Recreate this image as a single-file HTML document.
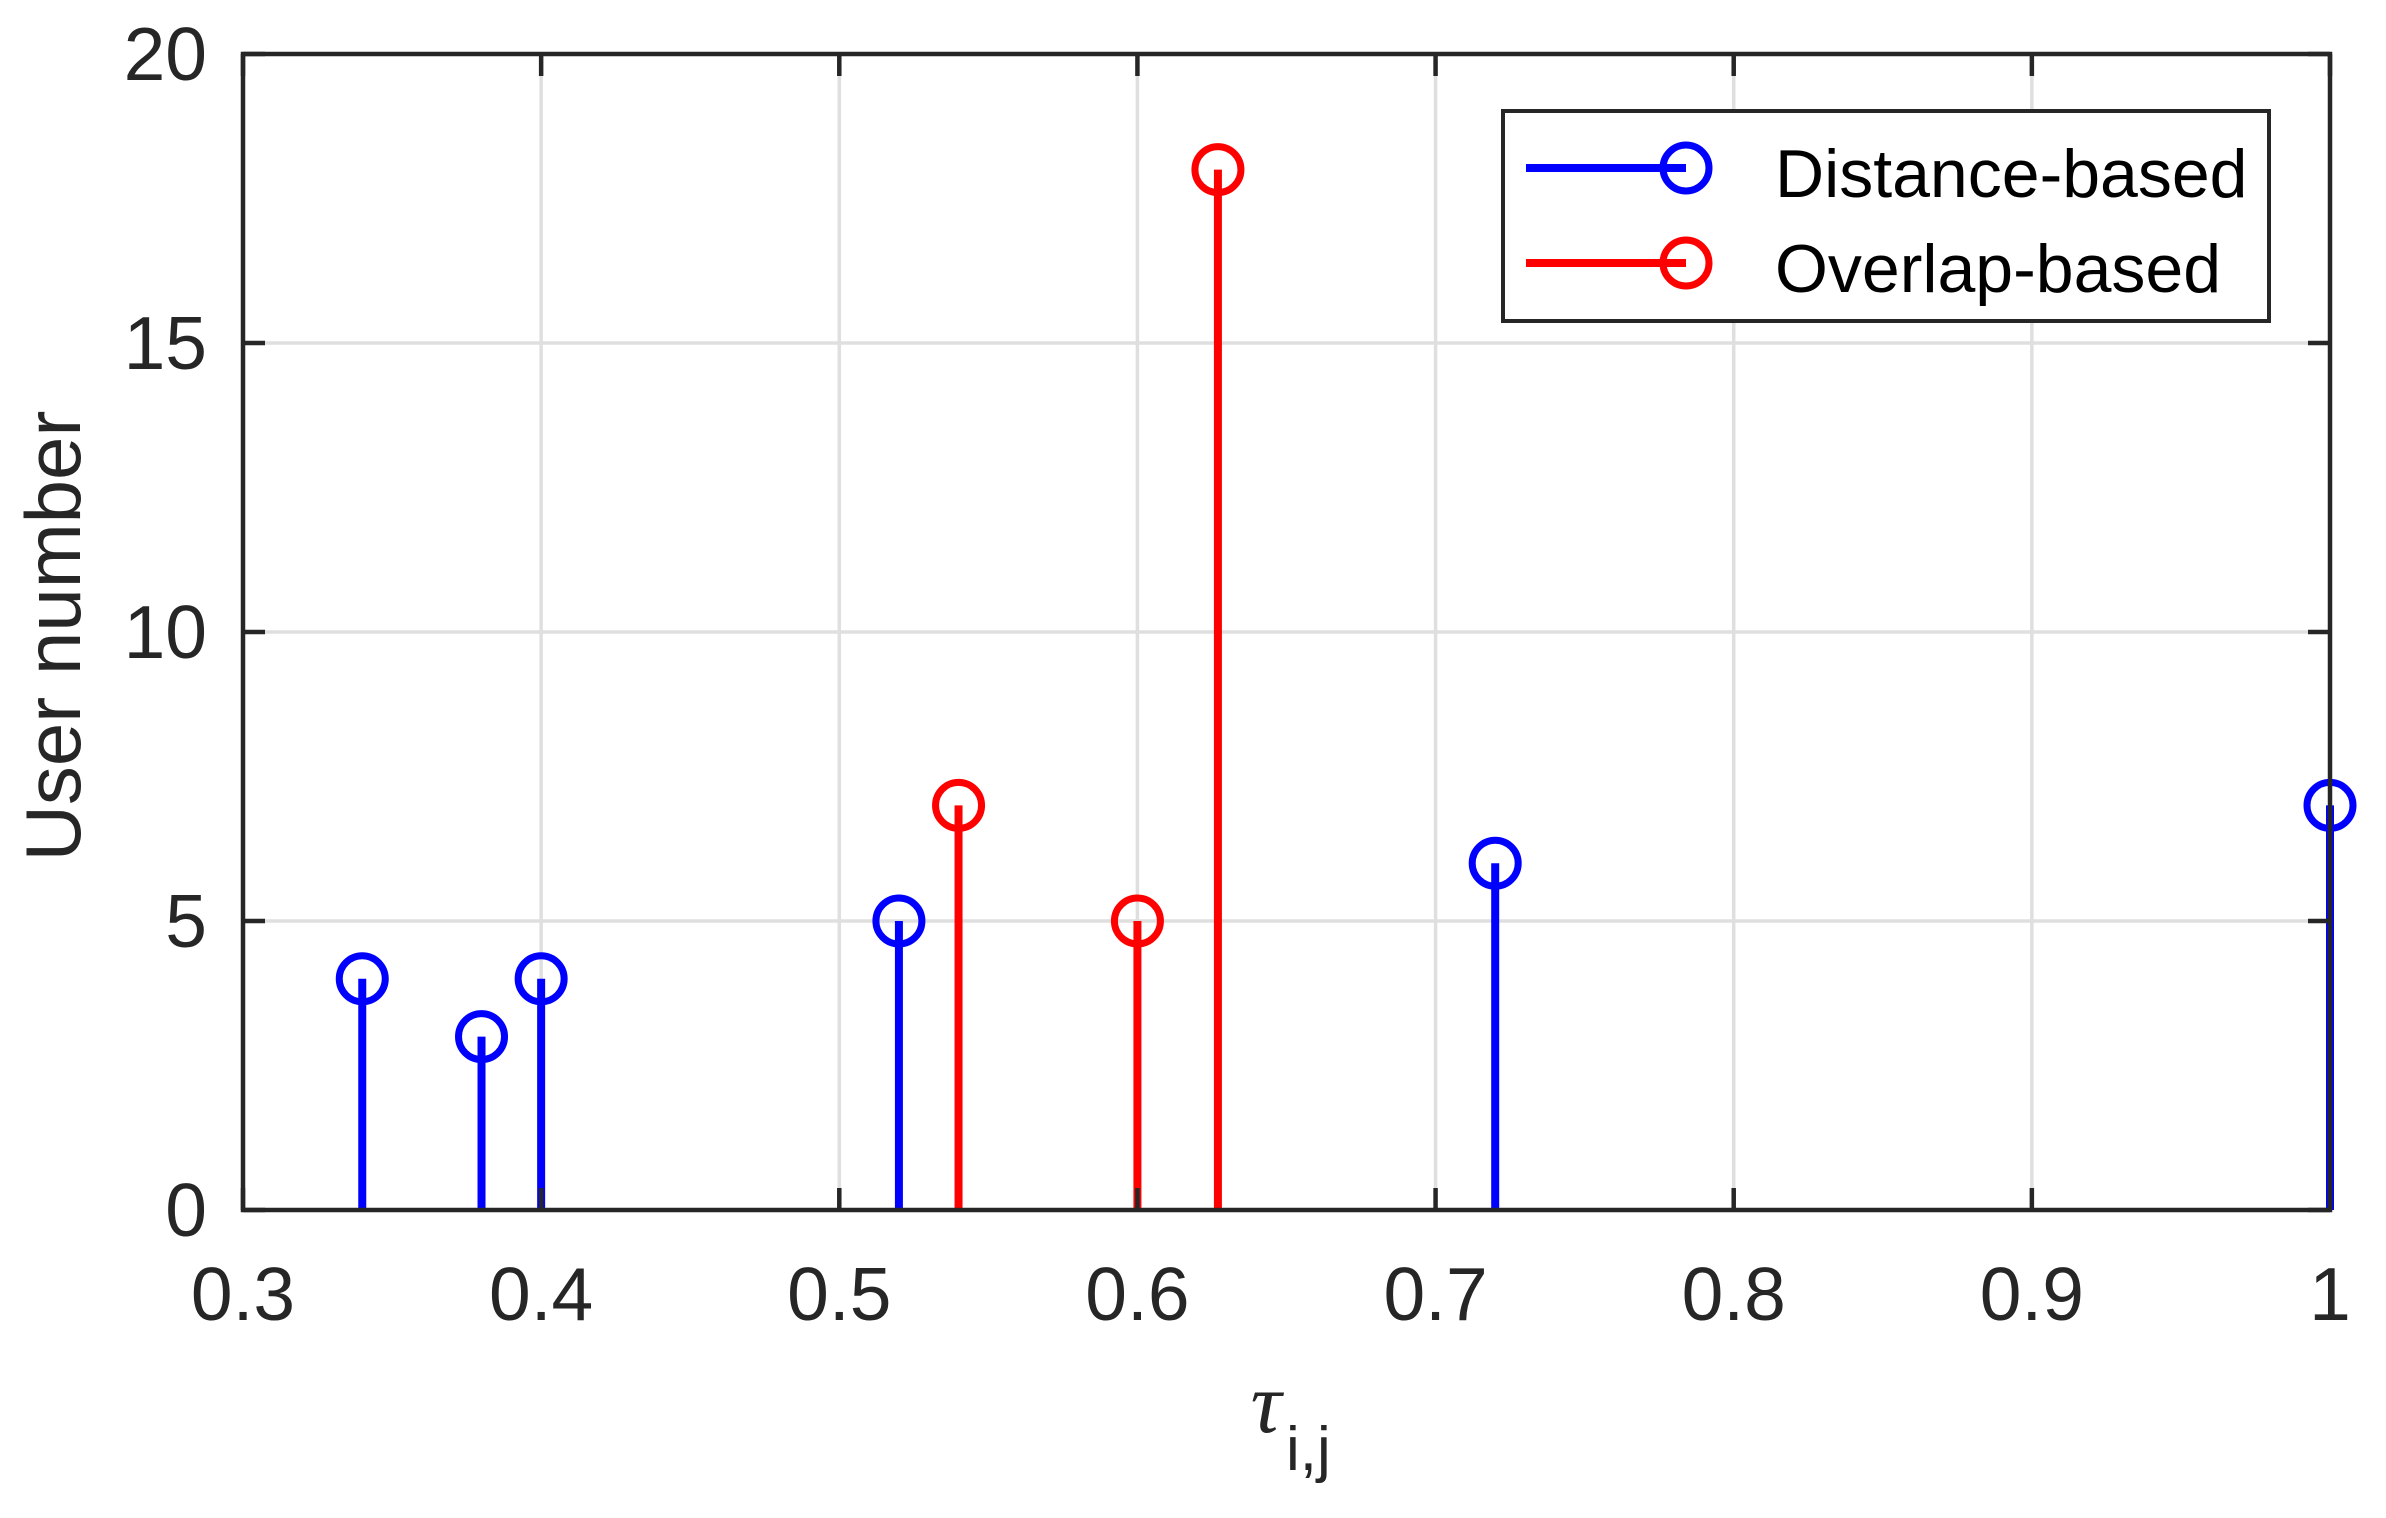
<!DOCTYPE html>
<html><head><meta charset="utf-8"><style>
html,body{margin:0;padding:0;background:#fff;}
svg{display:block;font-family:"Liberation Sans",Arial,sans-serif;}
</style></head><body>
<svg id="chart" width="2386" height="1518" viewBox="0 0 2386 1518">
<rect x="0" y="0" width="2386" height="1518" fill="#fff"/>
<g id="grid"></g>
<g id="series"></g>
<g id="axes"></g>
<text x="0" y="0" transform="translate(80,636) rotate(-90)" text-anchor="middle" font-size="78" fill="#262626">User number</text>
<g>
<text x="1266" y="1432" text-anchor="middle" font-family="Liberation Serif, serif" font-style="italic" font-size="86" fill="#262626">τ</text>
<text x="1286" y="1470" font-size="62" fill="#262626">i,j</text>
</g>
<g>
<rect x="1503" y="111" width="766" height="210" fill="#fff" stroke="#262626" stroke-width="4"/>
<g>
<line x1="1526" y1="168" x2="1686" y2="168" stroke="#0000ff" stroke-width="8"/>
<circle cx="1686" cy="168" r="23" fill="none" stroke="#0000ff" stroke-width="7"/>
<text x="1775" y="197" font-size="68" fill="#000">Distance-based</text>
</g>
<g>
<line x1="1526" y1="263" x2="1686" y2="263" stroke="#ff0000" stroke-width="8"/>
<circle cx="1686" cy="263" r="23" fill="none" stroke="#ff0000" stroke-width="7"/>
<text x="1775" y="292" font-size="68" fill="#000">Overlap-based</text>
</g>
</g>
</svg>
<script>
const distX = [0.34, 0.38, 0.40, 0.52, 0.72, 1.0];
const distY = [4, 3, 4, 5, 6, 7];
const overX = [0.54, 0.60, 0.627];
const overY = [7, 5, 18];
const xTicks = [0.3, 0.4, 0.5, 0.6, 0.7, 0.8, 0.9, 1.0];
const xTickLabels = ["0.3","0.4","0.5","0.6","0.7","0.8","0.9","1"];
const yTicks = [0, 5, 10, 15, 20];
const yTickLabels = ["0","5","10","15","20"];

const L=243, R=2330, T=54, B=1210;
const xMin=0.3, xMax=1.0, yMin=0, yMax=20;
function sx(v){return L+(v-xMin)/(xMax-xMin)*(R-L);}
function sy(v){return B-(v-yMin)/(yMax-yMin)*(B-T);}
const NS="http://www.w3.org/2000/svg";
function mk(tag,attrs,parent){const e=document.createElementNS(NS,tag);for(const k in attrs)e.setAttribute(k,attrs[k]);parent.appendChild(e);return e;}
const grid=document.getElementById('grid'), axes=document.getElementById('axes'), series=document.getElementById('series');

xTicks.forEach((t,i)=>{
  const x=sx(t);
  if(i>0&&i<xTicks.length-1){
    const g=mk('line',{x1:x,y1:T,x2:x,y2:B,stroke:'#dfdfdf','stroke-width':3.5},grid);
    
    
  }
  const t1=mk('line',{x1:x,y1:B,x2:x,y2:B-22,stroke:'#262626','stroke-width':4.5},axes);
  
  
  const t2=mk('line',{x1:x,y1:T,x2:x,y2:T+22,stroke:'#262626','stroke-width':4.5},axes);
  
  
  const lb=mk('text',{x:x,y:1320,'text-anchor':'middle','font-size':75,fill:'#262626'},axes);
  lb.textContent=xTickLabels[i];
  
  
});
yTicks.forEach((t,i)=>{
  const y=sy(t);
  if(i>0&&i<yTicks.length-1){
    const g=mk('line',{x1:L,y1:y,x2:R,y2:y,stroke:'#dfdfdf','stroke-width':3.5},grid);
    
    
  }
  const t1=mk('line',{x1:L,y1:y,x2:L+22,y2:y,stroke:'#262626','stroke-width':4.5},axes);
  
  
  const t2=mk('line',{x1:R,y1:y,x2:R-22,y2:y,stroke:'#262626','stroke-width':4.5},axes);
  
  
  const lb=mk('text',{x:207,y:y+26,'text-anchor':'end','font-size':75,fill:'#262626'},axes);
  lb.textContent=yTickLabels[i];
  
  
});
const frame=mk('rect',{x:L,y:T,width:R-L,height:B-T,fill:'none',stroke:'#262626','stroke-width':4.5},axes);



function stems(xs,ys,color,name){
  xs.forEach((v,i)=>{
    const x=sx(v), y=sy(ys[i]);
    const s=mk('line',{x1:x,y1:sy(0),x2:x,y2:y,stroke:color,'stroke-width':8},series);
    
    
    const c=mk('circle',{cx:x,cy:y,r:23,fill:'none',stroke:color,'stroke-width':7},series);
    
    
  });
}
stems(distX,distY,'#0000ff','distance');
stems(overX,overY,'#ff0000','overlap');
</script>
</body></html>
